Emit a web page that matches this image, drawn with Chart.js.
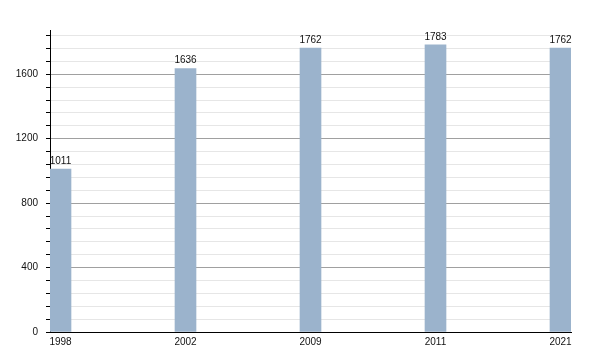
<!DOCTYPE html>
<html>
<head>
<meta charset="utf-8">
<script src="https://cdn.jsdelivr.net/npm/chart.js@4"></script>
<style>
  html, body { margin: 0; padding: 0; background: #fff; }
  #wrap { width: 600px; height: 350px; }
</style>
</head>
<body>
<div id="wrap"><canvas id="pop-chart"></canvas></div>
<script>
const years = ['1998', '2002', '2009', '2011', '2021'];
const population = [1011, 1636, 1762, 1783, 1762];
const yTicks = [0, 400, 800, 1200, 1600];

const barColor = '#9bb3cc';
const font = { family: "'Liberation Sans', Arial, sans-serif", size: 10 };

// prints the value above each bar
const valueLabels = {
    id: 'valueLabels',
    afterDatasetsDraw(chart) {
        const ctx = chart.ctx;
        const meta = chart.getDatasetMeta(0);
        ctx.save();
        ctx.font = font.size + 'px ' + font.family;
        ctx.fillStyle = '#111';
        ctx.textAlign = 'center';
        ctx.textBaseline = 'bottom';
        meta.data.forEach((bar, i) => {
            ctx.fillText(population[i], bar.x, bar.y - 3);
        });
        ctx.restore();
    }
};

const ctx = document.getElementById('pop-chart');

new Chart(ctx, {
    type: 'bar',
    data: {
        datasets: [
            {
                data: population.map((v, i) => ({ x: i, y: v })),
                backgroundColor: barColor,
                borderWidth: 0,
                barThickness: 21
            }
        ]
    },
    options: {
        responsive: true,
        maintainAspectRatio: false,
        animation: false,
        layout: { padding: { top: 30, right: 29, left: 0, bottom: 0 } },
        scales: {
            x: {
                type: 'linear',
                offset: false,
                min: -0.084,
                max: 4.084,
                afterBuildTicks: (scale) => {
                    scale.ticks = years.map((y, i) => ({ value: i }));
                },
                afterFit: (scale) => { scale.height = 18; },
                ticks: {
                    color: '#111',
                    font: font,
                    padding: 4,
                    maxRotation: 0,
                    autoSkip: false,
                    callback: (value) => years[value] ?? ''
                },
                grid: { display: false, drawTicks: false, offset: false },
                border: { color: '#000', width: 1 }
            },
            y: {
                min: 0,
                max: 1875,
                afterFit: (scale) => { scale.width = 50; },
                ticks: {
                    stepSize: 80,
                    includeBounds: false,
                    color: '#111',
                    font: font,
                    padding: 8,
                    autoSkip: false,
                    callback: (value) => yTicks.includes(value) ? value : ''
                },
                grid: {
                    color: (c) => (c.tick && c.tick.value % 400 === 0) ? '#a0a0a0' : '#e6e6e6',
                    tickColor: '#000',
                    tickLength: 4,
                    lineWidth: 1
                },
                border: { color: '#000', width: 1 }
            }
        },
        plugins: {
            legend: { display: false },
            title: { display: false },
            tooltip: { enabled: false }
        }
    },
    plugins: [valueLabels]
});
</script>
</body>
</html>
